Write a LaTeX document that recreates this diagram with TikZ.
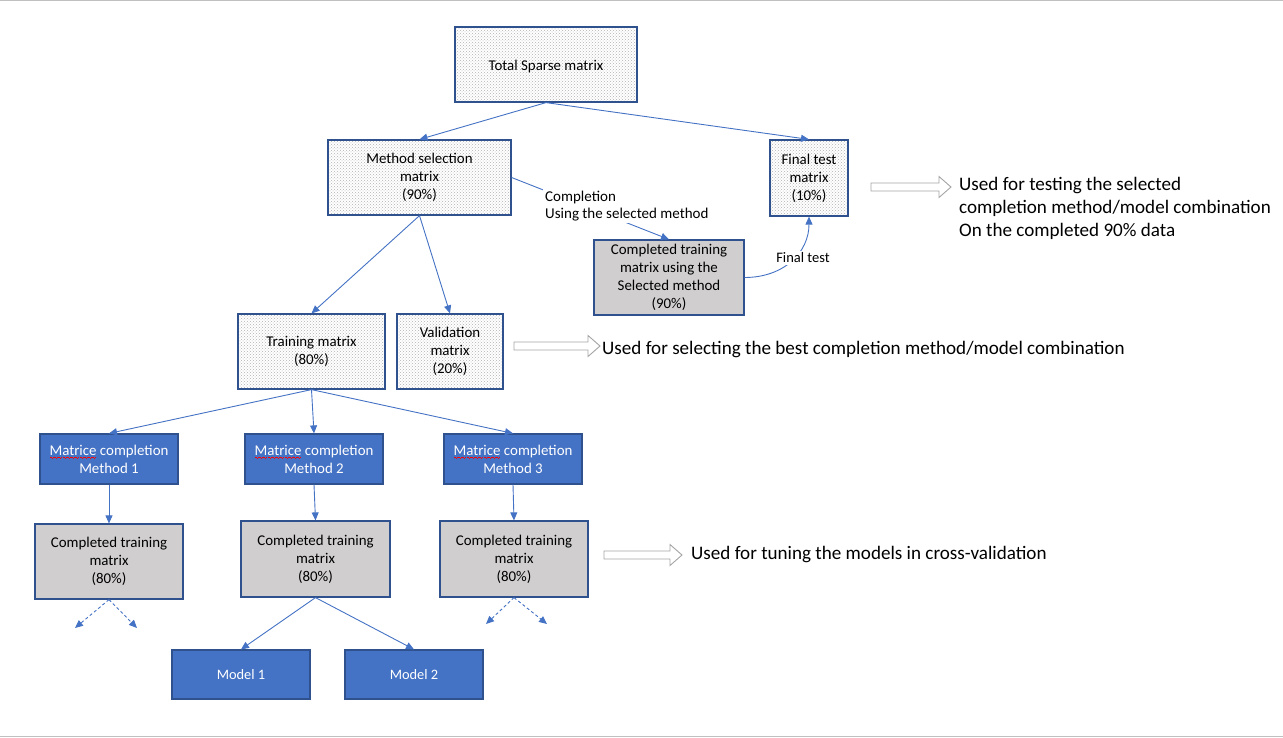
\documentclass[tikz,border=0pt]{standalone}
\usepackage{fontspec}
\setmainfont{Carlito}
\usetikzlibrary{arrows.meta,patterns,calc}

\definecolor{edge}{HTML}{4472C4}
\definecolor{boxline}{HTML}{2F528F}
\definecolor{fillgray}{HTML}{D0CECE}
\definecolor{hollowgray}{HTML}{A5A5A5}
\definecolor{rulegray}{HTML}{C0C0C0}

% red wavy spell-check underline, built from tiny rules
\newcommand\wavecell{\hbox{%
  \vrule height0pt depth1pt width1pt\vrule height-0.5pt depth1.5pt width1pt%
  \vrule height-1pt depth2pt width1pt\vrule height-0.5pt depth1.5pt width1pt}}
\newcommand\spellwave[1]{\setbox0\hbox{#1}%
  \rlap{\color{red}\lower1.5pt\hbox to\wd0{\xleaders\wavecell\hfil}}\box0\relax}

% hollow block arrow: x, y (centre line), length
\newcommand\hollowarrow[3]{%
  \draw[hollowgray, fill=white, line width=0.9pt]
    (#1,#2-4) -- (#1+#3-12,#2-4) -- (#1+#3-12,#2-10.5) -- (#1+#3,#2)
    -- (#1+#3-12,#2+10.5) -- (#1+#3-12,#2+4) -- (#1,#2+4) -- cycle;}

\tikzset{
  every node/.style={font=\fontsize{14.9}{18}\selectfont},
  boxbase/.style={draw=boxline, line width=1.2pt, align=center, inner sep=0pt},
  lowtext/.style={execute at begin node={\rule{0pt}{15pt}}},
  dotbox/.style={boxbase, lowtext, preaction={fill=white}, pattern=crosshatch dots, pattern color=gray!60},
  graybox/.style={boxbase, lowtext, fill=fillgray},
  bluebox/.style={boxbase, fill=edge, text=white},
  link/.style={draw=edge, line width=0.9pt, -{Triangle[length=8pt,width=7pt]}},
  dlink/.style={link, dash pattern=on 3pt off 2.5pt},
  lbl/.style={fill=white, inner sep=2pt, align=left},
  note/.style={align=left, inner sep=0pt, anchor=west, font=\fontsize{19.1}{23}\selectfont},
}

\begin{document}
\begin{tikzpicture}[x=1pt,y=-1pt]
\useasboundingbox (0,0) rectangle (1283,737);
\draw[rulegray, line width=1pt] (0,0.5) -- (1283,0.5);
\draw[rulegray, line width=1pt] (0,736) -- (1283,736);

% matrices
\node[dotbox, minimum width=182, minimum height=75] (tsm) at (546,64.5) {Total Sparse matrix};
\node[dotbox, minimum width=183, minimum height=75] (ms) at (419.5,177.5) {Method selection\\matrix\\(90\%)};
\node[dotbox, minimum width=78, minimum height=76] (fin) at (809,178) {Final test\\matrix\\(10\%)};
\node[graybox, minimum width=150, minimum height=75] (c90) at (669,277.5) {Completed training\\matrix using the\\Selected method\\(90\%)};
\node[dotbox, minimum width=147, minimum height=75] (train) at (311.5,351.5) {Training matrix\\(80\%)};
\node[dotbox, minimum width=106, minimum height=75] (val) at (450,351.5) {Validation\\matrix\\(20\%)};

% completion methods
\node[bluebox, minimum width=138, minimum height=50] (m1) at (109,459) {\spellwave{Matrice} completion\\Method 1};
\node[bluebox, minimum width=138, minimum height=50] (m2) at (314,459) {\spellwave{Matrice} completion\\Method 2};
\node[bluebox, minimum width=138, minimum height=50] (m3) at (513,459) {\spellwave{Matrice} completion\\Method 3};

% completed matrices
\node[graybox, minimum width=148, minimum height=75] (c1) at (109,561.5) {Completed training\\matrix\\(80\%)};
\node[graybox, minimum width=149, minimum height=76] (c2) at (315.5,559) {Completed training\\matrix\\(80\%)};
\node[graybox, minimum width=148, minimum height=76] (c3) at (514,559) {Completed training\\matrix\\(80\%)};

% models
\node[bluebox, minimum width=138, minimum height=49, font=\fontsize{14.4}{17}\selectfont] (mod1) at (241,674.5) {Model 1};
\node[bluebox, minimum width=138, minimum height=49, font=\fontsize{14.4}{17}\selectfont] (mod2) at (414,674.5) {Model 2};

% free ends of the dashed continuations
\coordinate (d1a) at (75,628);
\coordinate (d1b) at (137,628);
\coordinate (d3a) at (486,624);
\coordinate (d3b) at (547,624);

% connectors
\draw[link] (tsm.south) -- (ms.north);
\draw[link] (tsm.south) -- (fin.north);
\draw[link] (ms.south) -- (train.north);
\draw[link] (ms.south) -- (val.north);
\draw[link] (ms.east) -- (c90.north);
\node[lbl, anchor=west, font=\fontsize{15}{17}\selectfont] (cmplabel) at (543,206) {Completion\\Using the selected method};
\draw[link] (c90.east) .. controls +(40,0) and +(0,35) .. (fin.south);
\node[lbl, font=\fontsize{14.5}{16}\selectfont] (ftlabel) at (803,258) {Final test};

\draw[link] (train.south) -- (m1.north);
\draw[link] (train.south) -- (m2.north);
\draw[link] (train.south) -- (m3.north);
\draw[link] (m1.south) -- (c1.north);
\draw[link] (m2.south) -- (c2.north);
\draw[link] (m3.south) -- (c3.north);
\draw[link] (c2.south) -- (mod1.north);
\draw[link] (c2.south) -- (mod2.north);
\draw[dlink] (c1.south) -- (d1a);
\draw[dlink] (c1.south) -- (d1b);
\draw[dlink] (c3.south) -- (d3a);
\draw[dlink] (c3.south) -- (d3b);

% hollow arrows and their notes
\hollowarrow{871}{187}{80}
\hollowarrow{514}{346}{86}
\hollowarrow{604}{555}{78}
\node[note] (n1) at (959,208) {Used for testing the selected\\completion method/model combination\\On the completed 90\% data};
\node[note] (n2) at (602,350) {Used for selecting the best completion method/model combination};
\node[note] (n3) at (691,555) {Used for tuning the models in cross-validation};
\end{tikzpicture}
\end{document}
